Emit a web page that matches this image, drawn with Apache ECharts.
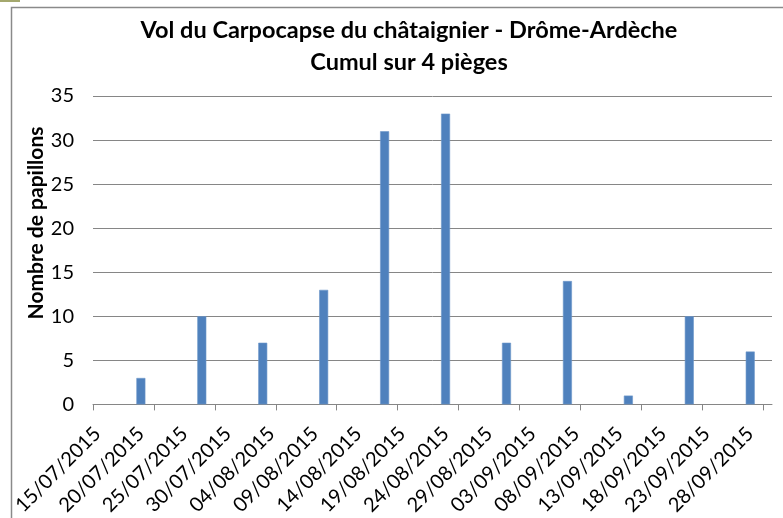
<!DOCTYPE html>
<html>
<head>
<meta charset="utf-8">
<script src="https://cdn.jsdelivr.net/npm/echarts@6/dist/echarts.min.js"></script>
<style>
html,body{margin:0;padding:0;background:#fff;}
#chart{width:783px;height:518px;}
</style>
</head>
<body>
<div id="chart"></div>
<script>
const titleLines = ["Vol du Carpocapse du châtaignier - Drôme-Ardèche", "Cumul sur 4 pièges"];
const yAxisTitle = "Nombre de papillons";
const barDates = ["20/07/2015","27/07/2015","03/08/2015","10/08/2015","17/08/2015","24/08/2015","31/08/2015","07/09/2015","14/09/2015","21/09/2015","28/09/2015"];
const barValues = [3, 10, 7, 13, 31, 33, 7, 14, 1, 10, 6];
const tickLabels = ["15/07/2015","20/07/2015","25/07/2015","30/07/2015","04/08/2015","09/08/2015","14/08/2015","19/08/2015","24/08/2015","29/08/2015","03/09/2015","08/09/2015","13/09/2015","18/09/2015","23/09/2015","28/09/2015"];
const tickMarkDates = ["14/07/2015","21/07/2015","28/07/2015","04/08/2015","11/08/2015","18/08/2015","25/08/2015","01/09/2015","08/09/2015","15/09/2015","22/09/2015","29/09/2015"];
const yTicks = [0, 5, 10, 15, 20, 25, 30, 35];

function toDay(s) {
  const p = s.split('/');
  const t = Date.UTC(+p[2], +p[1] - 1, +p[0]);
  const t0 = Date.UTC(2015, 6, 15);
  return Math.round((t - t0) / 86400000);
}
function pad(n){ return (n < 10 ? '0' : '') + n; }
function dayToLabel(d) {
  const t = new Date(Date.UTC(2015, 6, 15) + Math.round(d) * 86400000);
  return pad(t.getUTCDate()) + '/' + pad(t.getUTCMonth() + 1) + '/' + t.getUTCFullYear();
}

const labelDays = tickLabels.map(toDay);
const tickDays = tickMarkDates.map(d => toDay(d) + 0.5);
const barData = barDates.map((d, i) => [toDay(d), barValues[i]]);

const FONT = 'Lato';
const chart = echarts.init(document.getElementById('chart'), null, {renderer: 'canvas'});
chart.setOption({
  animation: false,
  backgroundColor: '#ffffff',
  title: {
    text: titleLines.join('\n'),
    left: 404, top: 9, textAlign: 'center',
    textStyle: {fontFamily: FONT, fontWeight: 'bold', fontSize: 23.5, color: '#000', lineHeight: 32}
  },
  grid: {left: 93, right: 11, top: 96, bottom: 110.5, containLabel: false},
  xAxis: {
    type: 'value',
    min: -0.5, max: 77.5,
    splitLine: {show: false},
    axisLine: {show: true, lineStyle: {color: '#868686', width: 1}},
    axisTick: {show: true, length: 6, lineStyle: {color: '#868686'}, customValues: tickDays},
    axisLabel: {
      customValues: labelDays,
      rotate: 45, margin: 26,
      fontFamily: FONT, fontSize: 20, color: '#000',
      formatter: v => dayToLabel(v)
    }
  },
  yAxis: {
    type: 'value',
    min: 0, max: 35, interval: 5,
    axisLine: {show: false},
    axisTick: {show: false},
    splitLine: {show: true, lineStyle: {color: '#868686', width: 1}},
    axisLabel: {fontFamily: FONT, fontSize: 20, color: '#000', margin: 19}
  },
  series: [{
    type: 'bar',
    data: barData,
    barWidth: 9,
    itemStyle: {color: '#4F81BD', borderColor: '#6d97c9', borderWidth: 0.6}
  }],
  graphic: [
    {type: 'rect', left: 9, top: 5, shape: {width: 800, height: 540}, style: {fill: 'none', stroke: '#8a8a8a', lineWidth: 1.5}, z: -1},
    {type: 'rect', left: 0, top: 0, shape: {width: 20, height: 2}, style: {fill: '#a4a86e'}},
    {type: 'text', x: 36, y: 223, rotation: Math.PI / 2,
     style: {text: yAxisTitle, fontFamily: FONT, fontWeight: 'bold', fontSize: 21, fill: '#000', align: 'center', verticalAlign: 'middle'}}
  ]
});
</script>
</body>
</html>
